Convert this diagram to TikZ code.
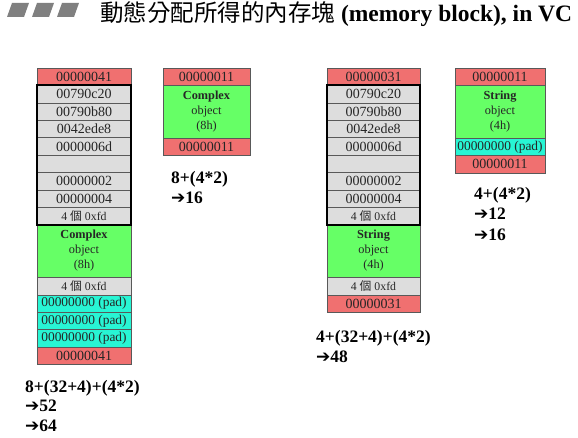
\documentclass[tikz,border=0pt]{standalone}
\usepackage{fontspec}
\setmainfont{Liberation Serif}
\newfontfamily\cjk{Noto Sans CJK TC}
\newfontfamily\arw{DejaVu Sans}
\usetikzlibrary{positioning}
\definecolor{hdrred}{RGB}{240,112,112}
\definecolor{dbggray}{RGB}{221,221,221}
\definecolor{objgreen}{RGB}{102,255,102}
\definecolor{padcyan}{RGB}{40,245,212}
\definecolor{barsgray}{RGB}{128,128,128}
\newcommand{\ga}{{\arw\bfseries\fontsize{17}{20}\selectfont ➔}}
\newcommand{\fdrow}{4 {\cjk 個} 0xfd}
\tikzset{
  cell/.style={draw=black!65,minimum width=94pt,minimum height=17.4pt,inner sep=0pt,outer sep=0pt,
    text=black!85,font=\fontsize{14}{15}\selectfont},
  hdr/.style={cell,fill=hdrred},
  dbg/.style={cell,fill=dbggray},
  pad/.style={cell,fill=padcyan,font=\fontsize{13.4}{15}\selectfont},
}

\begin{document}
\begin{tikzpicture}[x=1pt,y=1pt,node distance=0pt,
   obj/.style={cell,fill=objgreen,minimum height=52.8pt,align=center,font=\fontsize{12.3}{15}\selectfont},
   fd/.style={dbg,font=\fontsize{11.8}{13}\selectfont},
   frame/.style={draw=black,line width=2pt},
   sum/.style={anchor=north west,align=left,inner sep=0pt,font=\bfseries\fontsize{17.5}{20.5}\selectfont}]
\path[use as bounding box] (0,0) rectangle (578,438);
% Titel
\foreach \i in {0,1,2}
  \fill[barsgray] ({7+25*\i},421) -- ({24+25*\i},421) -- ({29+25*\i},435) -- ({12+25*\i},435) -- cycle;
\node[anchor=west,inner sep=0pt,font=\bfseries\fontsize{23.5}{27}\selectfont] (title) at (100,424)
  {{\cjk\mdseries 動態分配所得的內存塊} (memory block), in VC};
% Complex, debug
\begin{scope}[shift={(84,370)}]
  \node[hdr,anchor=north] (h) {00000041};
  \node[dbg] (d1) [below=of h] {00790c20};
  \node[dbg] (d2) [below=of d1] {00790b80};
  \node[dbg] (d3) [below=of d2] {0042ede8};
  \node[dbg] (d4) [below=of d3] {0000006d};
  \node[dbg] (d5) [below=of d4] {};
  \node[dbg] (d6) [below=of d5] {00000002};
  \node[dbg] (d7) [below=of d6] {00000004};
  \node[fd] (d8) [below=of d7] {\fdrow};
  \node[obj] (o) [below=of d8] {\textbf{Complex}\\object\\(8h)};
  \node[fd] (f) [below=of o] {\fdrow};
  \node[pad] (p1) [below=of f] {00000000 (pad)};
  \node[pad] (p2) [below=of p1] {00000000 (pad)};
  \node[pad] (p3) [below=of p2] {00000000 (pad)};
  \node[hdr] (t) [below=of p3] {00000041};
  \draw[frame] (d1.north west) rectangle (d8.south east);
  \node[sum,font=\bfseries\fontsize{17.5}{19.5}\selectfont] at (-59,-312) {8+(32+4)+(4*2)\\\ga52\\\ga64};
\end{scope}
% Complex, release
\begin{scope}[shift={(206.5,370)},cell/.append style={minimum width=87pt}]
  \node[hdr,anchor=north] (h) {00000011};
  \node[obj] (o) [below=of h] {\textbf{Complex}\\object\\(8h)};
  \node[hdr] (t) [below=of o] {00000011};
  \node[sum] at (-35.5,-103) {8+(4*2)\\\ga16};
\end{scope}
% String, debug
\begin{scope}[shift={(373.5,370)},cell/.append style={minimum width=93pt}]
  \node[hdr,anchor=north] (h) {00000031};
  \node[dbg] (d1) [below=of h] {00790c20};
  \node[dbg] (d2) [below=of d1] {00790b80};
  \node[dbg] (d3) [below=of d2] {0042ede8};
  \node[dbg] (d4) [below=of d3] {0000006d};
  \node[dbg] (d5) [below=of d4] {};
  \node[dbg] (d6) [below=of d5] {00000002};
  \node[dbg] (d7) [below=of d6] {00000004};
  \node[fd] (d8) [below=of d7] {\fdrow};
  \node[obj] (o) [below=of d8] {\textbf{String}\\object\\(4h)};
  \node[fd] (f) [below=of o] {\fdrow};
  \node[hdr] (t) [below=of f] {00000031};
  \draw[frame] (d1.north west) rectangle (d8.south east);
  \node[sum] at (-57.5,-262) {4+(32+4)+(4*2)\\\ga48};
\end{scope}
% String, release
\begin{scope}[shift={(500,370)},cell/.append style={minimum width=90pt}]
  \node[hdr,anchor=north] (h) {00000011};
  \node[obj] (o) [below=of h] {\textbf{String}\\object\\(4h)};
  \node[pad] (p1) [below=of o] {00000000 (pad)};
  \node[hdr] (t) [below=of p1] {00000011};
  \node[sum] at (-26,-119) {4+(4*2)\\\ga12\\\ga16};
\end{scope}
\end{tikzpicture}
\end{document}
